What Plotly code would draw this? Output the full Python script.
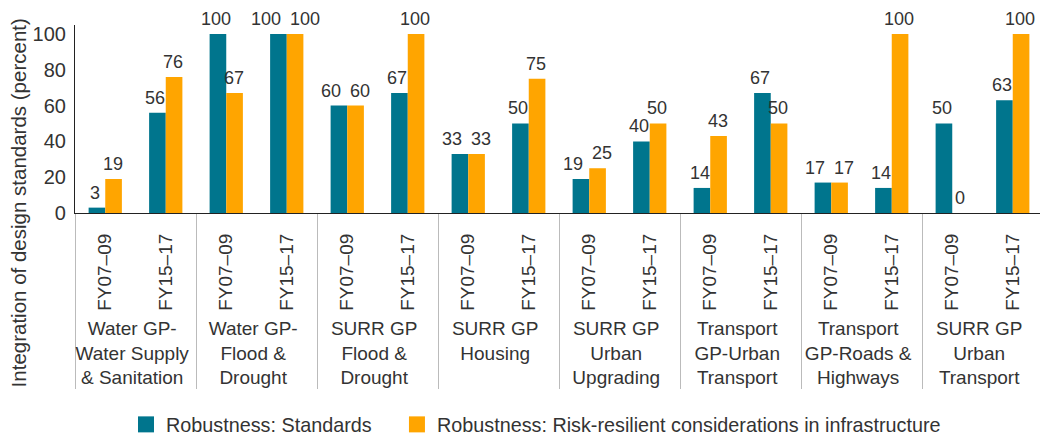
import plotly.graph_objects as go

groups = [
    "Water GP-<br>Water Supply<br>& Sanitation",
    "Water GP-<br>Flood &<br>Drought",
    "SURR GP<br>Flood &<br>Drought",
    "SURR GP<br>Housing<br> ",
    "SURR GP<br>Urban<br>Upgrading",
    "Transport<br>GP-Urban<br>Transport",
    "Transport<br>GP-Roads &<br>Highways",
    "SURR GP<br>Urban<br>Transport",
]
periods = ["FY07–09", "FY15–17"]

standards = [3, 56, 100, 100, 60, 67, 33, 50, 19, 40, 14, 67, 17, 14, 50, 63]
resilient = [19, 76, 67, 100, 60, 100, 33, 75, 25, 50, 43, 50, 17, 100, 0, 100]

series_names = ["Robustness: Standards",
                "Robustness: Risk-resilient considerations in infrastructure"]
colors = ["#00758D", "#FFA500"]
y_title = "Integration of design standards (percent)"

x_outer = [g for g in groups for _ in periods]
x_inner = [p for _ in groups for p in periods]

FONT = "Liberation Sans, Arial, sans-serif"
TXT = "#333333"
BARGAP = 0.45
LABEL_SIZE = 18

fig = go.Figure()
for name, vals, col in zip(series_names, [standards, resilient], colors):
    fig.add_trace(go.Bar(
        x=[x_outer, x_inner], y=vals, name=name, marker_color=col,
        marker_line_width=0, showlegend=False, hoverinfo="x+y",
    ))

# value labels above bars, nudged apart sideways where neighbouring labels collide
half = (1 - BARGAP) / 4  # offset of each bar centre from category centre
def text_w(s):
    return 0.556 * LABEL_SIZE * len(s)
for i, (a, b) in enumerate(zip(standards, resilient)):
    ta, tb = str(a), str(b)
    shift = 0.0
    if abs(a - b) <= 6:
        need = (text_w(ta) + text_w(tb)) / 2 + 8 - 16.5
        shift = max(need, 0) / 2
    for val, txt, off, sh in ((a, ta, -half, -shift - 2), (b, tb, half, shift - 1)):
        fig.add_annotation(x=i + off, y=val, xref="x", yref="y", text=txt,
                           showarrow=False, xanchor="center", yanchor="bottom",
                           xshift=sh, yshift=3,
                           font=dict(size=LABEL_SIZE, color=TXT, family=FONT))

# legend-only entries with larger square swatches
for i, (name, col) in enumerate(zip(series_names, colors)):
    fig.add_trace(go.Scatter(
        x=[[groups[0]], [periods[0]]], y=[None], mode="markers", name=name,
        marker=dict(symbol="square", size=18, color=col),
        showlegend=True, legend="legend" if i == 0 else "legend2",
        hoverinfo="skip",
    ))

# page has an 8px body margin: figure is drawn 8px in from top-left
leg_common = dict(orientation="h", xanchor="left", yanchor="middle", y=-1.125,
                  font=dict(size=19.8, color=TXT, family=FONT), itemwidth=30,
                  bgcolor="rgba(0,0,0,0)", borderwidth=0)
fig.update_layout(
    width=1040, height=427,
    margin=dict(l=67, r=5, t=17, b=222, autoexpand=False),
    plot_bgcolor="white", paper_bgcolor="white",
    barmode="group", bargap=BARGAP, bargroupgap=0,
    font=dict(family=FONT, color=TXT),
    showlegend=True,
    legend=dict(x=0.0527, **leg_common),
    legend2=dict(x=0.3326, **leg_common),
)
fig.add_annotation(text=y_title, textangle=-90, xref="paper", yref="paper",
                   x=-0.0585, y=0.053, xanchor="center", yanchor="middle",
                   showarrow=False, font=dict(size=20.5, color=TXT, family=FONT))
fig.update_yaxes(range=[0, 105], tickvals=[0, 20, 40, 60, 80, 100], showgrid=False,
                 zeroline=False, showline=True, linecolor="#222", linewidth=1.2,
                 ticks="", tickfont=dict(size=20, color=TXT, family=FONT),
                 automargin=False, ticklabelstandoff=4)
fig.update_xaxes(range=[-0.5, len(x_inner) - 0.5],
                 showgrid=False, showline=True, linecolor="#222", linewidth=1.2,
                 tickangle=-90, tickfont=dict(size=19, color=TXT, family=FONT),
                 showdividers=True, dividercolor="#bbbbbb", dividerwidth=1.2,
                 ticks="", automargin=False, ticklabelstandoff=12)

fig.write_html("out.html")
